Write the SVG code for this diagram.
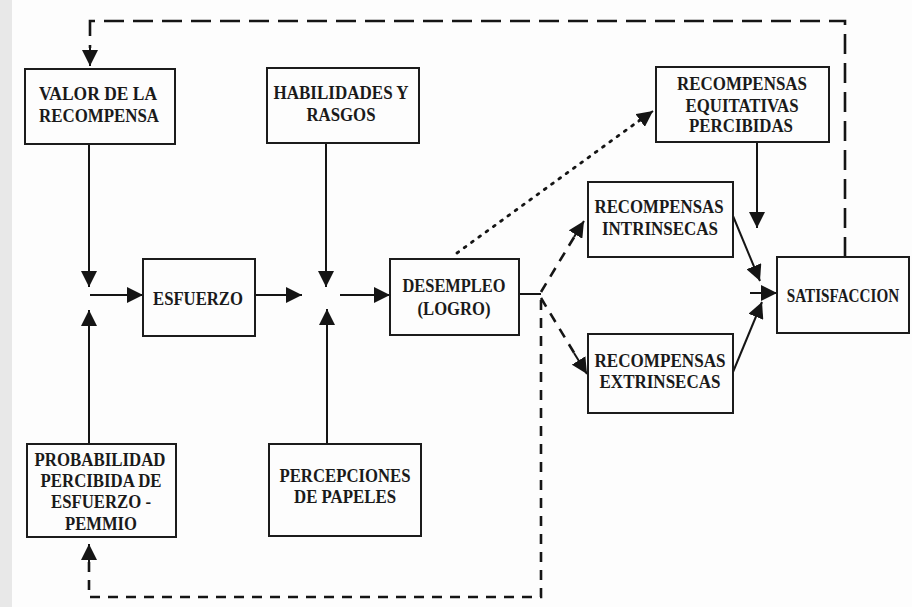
<svg xmlns="http://www.w3.org/2000/svg" width="912" height="607" viewBox="0 0 912 607">
  <defs>
    <marker id="arrow" markerUnits="userSpaceOnUse" markerWidth="17" markerHeight="16" refX="16" refY="8" orient="auto">
      <path d="M0,0 L16,8 L0,16 z" fill="#151515"/>
    </marker>
    <style>
      .box { fill: none; stroke: #1c1c1c; stroke-width: 2; }
      .lbl { font-family: "Liberation Serif", "Times New Roman", serif; font-weight: bold; font-size: 18.5px; fill: #1a1a1a; text-anchor: middle; }
      .solid { fill: none; stroke: #151515; stroke-width: 2; marker-end: url(#arrow); }
      .plain { fill: none; stroke: #151515; stroke-width: 2; }
      .longdash { fill: none; stroke: #151515; stroke-width: 2.6; stroke-dasharray: 20 9; }
      .dash { fill: none; stroke: #151515; stroke-width: 2.6; stroke-dasharray: 10 8; }
      .dot { fill: none; stroke: #151515; stroke-width: 2.8; stroke-dasharray: 2 7; stroke-linecap: round; }
    </style>
  </defs>

  <!-- page -->
  <rect x="0" y="0" width="912" height="607" fill="#fdfdfd"/>
  <rect x="0" y="0" width="12" height="607" fill="#e8e8e8"/>

  <!-- connectors -->
  <g id="connectors">
    <!-- feedback from satisfaction to reward value -->
    <path class="longdash" d="M845,257 V21 H90 V48"/>
    <path class="solid" d="M90,46 V66"/>
    <path class="solid" d="M89,144 V287"/>
    <path class="solid" d="M90,295 H143"/>
    <path class="solid" d="M89,444 V310"/>
    <path class="solid" d="M255,295 H302"/>
    <path class="solid" d="M326,143 V287"/>
    <path class="solid" d="M327,444 V309"/>
    <path class="solid" d="M340,295 H390"/>
    <path class="plain" d="M519,294 H541"/>
    <path class="dash" d="M541,292 L576,234"/>
    <path class="solid" d="M574,237 L584,221"/>
    <path class="dash" d="M541,298 L576,356"/>
    <path class="solid" d="M574,353 L587,374"/>
    <!-- feedback from performance to perceived probability -->
    <path class="dash" d="M541,300 V597 H89 V562"/>
    <path class="solid" d="M89,564 V544"/>
    <path class="dot" d="M457,253 L640,120"/>
    <path class="solid" d="M638,122 L653,111"/>
    <path class="solid" d="M757,142 V228"/>
    <path class="solid" d="M733,216 L760,281"/>
    <path class="solid" d="M750,293 H777"/>
    <path class="solid" d="M733,372 L762,302"/>
  </g>

  <g id="valor">
    <rect class="box" x="25" y="69" width="150" height="75"/>
    <text class="lbl" x="98" y="100" textLength="118" lengthAdjust="spacingAndGlyphs">VALOR DE LA</text>
    <text class="lbl" x="99" y="122" textLength="120" lengthAdjust="spacingAndGlyphs">RECOMPENSA</text>
  </g>
  <g id="habilidades">
    <rect class="box" x="267" y="68" width="152" height="75"/>
    <text class="lbl" x="341" y="99" textLength="135" lengthAdjust="spacingAndGlyphs">HABILIDADES Y</text>
    <text class="lbl" x="341" y="121" textLength="69" lengthAdjust="spacingAndGlyphs">RASGOS</text>
  </g>
  <g id="esfuerzo">
    <rect class="box" x="143" y="259" width="112" height="77"/>
    <text class="lbl" x="198" y="305" textLength="90" lengthAdjust="spacingAndGlyphs">ESFUERZO</text>
  </g>
  <g id="desempleo">
    <rect class="box" x="390" y="259" width="129" height="76"/>
    <text class="lbl" x="454" y="292" textLength="103" lengthAdjust="spacingAndGlyphs">DESEMPLEO</text>
    <text class="lbl" x="454" y="315" textLength="73" lengthAdjust="spacingAndGlyphs">(LOGRO)</text>
  </g>
  <g id="probabilidad">
    <rect class="box" x="27" y="444" width="149" height="93"/>
    <text class="lbl" x="100" y="466" textLength="131" lengthAdjust="spacingAndGlyphs">PROBABILIDAD</text>
    <text class="lbl" x="101" y="487" textLength="121" lengthAdjust="spacingAndGlyphs">PERCIBIDA DE</text>
    <text class="lbl" x="101" y="508" textLength="100" lengthAdjust="spacingAndGlyphs">ESFUERZO -</text>
    <text class="lbl" x="101" y="530" textLength="72" lengthAdjust="spacingAndGlyphs">PEMMIO</text>
  </g>
  <g id="percepciones">
    <rect class="box" x="269" y="444" width="152" height="92"/>
    <text class="lbl" x="345" y="482" textLength="131" lengthAdjust="spacingAndGlyphs">PERCEPCIONES</text>
    <text class="lbl" x="345" y="503" textLength="102" lengthAdjust="spacingAndGlyphs">DE PAPELES</text>
  </g>
  <g id="equitativas">
    <rect class="box" x="656" y="67" width="173" height="75"/>
    <text class="lbl" x="742" y="90" textLength="130" lengthAdjust="spacingAndGlyphs">RECOMPENSAS</text>
    <text class="lbl" x="742" y="112" textLength="113" lengthAdjust="spacingAndGlyphs">EQUITATIVAS</text>
    <text class="lbl" x="741" y="132" textLength="104" lengthAdjust="spacingAndGlyphs">PERCIBIDAS</text>
  </g>
  <g id="intrinsecas">
    <rect class="box" x="588" y="182" width="145" height="75"/>
    <text class="lbl" x="659" y="213" textLength="129" lengthAdjust="spacingAndGlyphs">RECOMPENSAS</text>
    <text class="lbl" x="660" y="235" textLength="116" lengthAdjust="spacingAndGlyphs">INTRINSECAS</text>
  </g>
  <g id="extrinsecas">
    <rect class="box" x="588" y="334" width="145" height="79"/>
    <text class="lbl" x="660" y="367" textLength="131" lengthAdjust="spacingAndGlyphs">RECOMPENSAS</text>
    <text class="lbl" x="660" y="388" textLength="121" lengthAdjust="spacingAndGlyphs">EXTRINSECAS</text>
  </g>
  <g id="satisfaccion">
    <rect class="box" x="777" y="257" width="132" height="76"/>
    <!-- narrowed horizontally so the word sits inside the box -->
    <text class="lbl" transform="translate(843,302) scale(0.82,1)" x="0" y="0">SATISFACCION</text>
  </g>
</svg>
